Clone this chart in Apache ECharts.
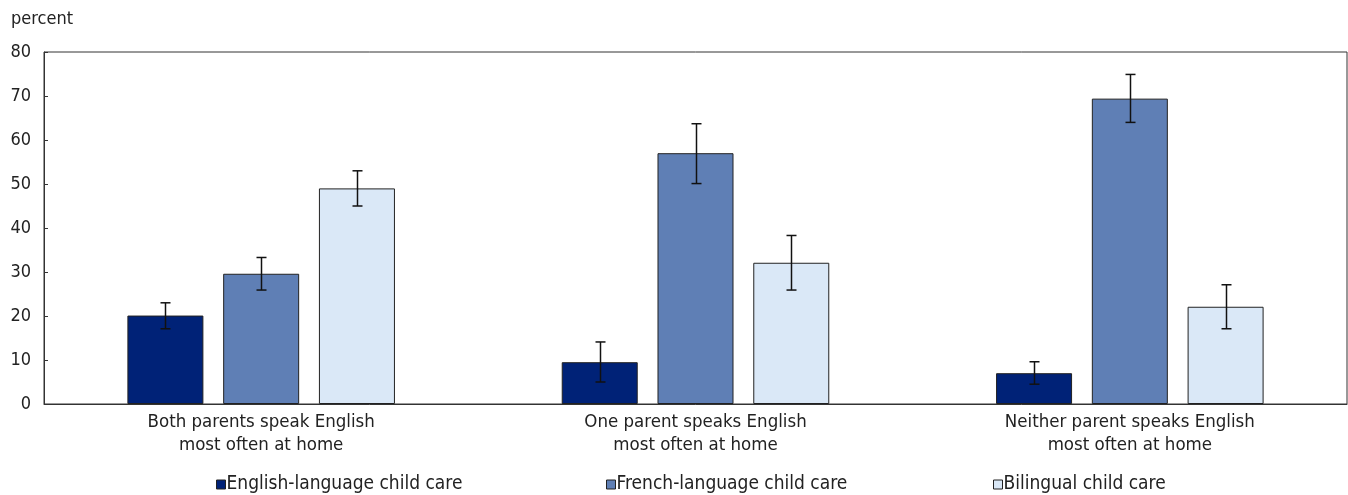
<!DOCTYPE html>
<html>
<head>
<meta charset="utf-8">
<script src="https://cdn.jsdelivr.net/npm/echarts@6/dist/echarts.min.js"></script>
<style>
  html, body { margin: 0; padding: 0; background: #fff; }
  #chart { width: 1348px; height: 495px; }
</style>
</head>
<body>
<div id="chart"></div>
<script>
// Child care language by home language of parents (percent, with 95% confidence intervals)
const categories = [
  'Both parents speak English\nmost often at home',
  'One parent speaks English\nmost often at home',
  'Neither parent speaks English\nmost often at home'
];
const seriesNames = ['English-language child care', 'French-language child care', 'Bilingual child care'];

const englishCare = [20.1, 9.5, 7.0];
const frenchCare = [29.6, 57.0, 69.4];
const bilingualCare = [49.0, 32.1, 22.1];

// Confidence interval bounds [low, high] per category
const englishCI = [[17.1, 23.0], [5.0, 14.1], [4.5, 9.6]];
const frenchCI = [[25.9, 33.3], [50.1, 63.7], [64.0, 74.9]];
const bilingualCI = [[45.0, 53.0], [25.9, 38.3], [17.1, 27.1]];

const yTicks = { min: 0, max: 80, interval: 10 };

const colors = ['#002277', '#5f7fb5', '#dae8f7'];
const FONT = '"DejaVu Sans Condensed", "Liberation Sans Narrow", sans-serif';
const BAR_W = 0.175;   // share of category band
const BAR_GAP = 0.26;  // share of bar width

const chart = echarts.init(document.getElementById('chart'), null, { renderer: 'canvas' });

function ciSeries(idx, ci) {
  return {
    type: 'custom',
    name: seriesNames[idx] + ' CI',
    z: 10,
    silent: true,
    data: ci.map((d, i) => [i, d[0], d[1]]),
    renderItem: function (params, api) {
      const band = api.size([1, 0])[0];
      const bw = band * BAR_W;
      const off = (idx - 1) * bw * (1 + BAR_GAP);
      const lo = api.coord([api.value(0), api.value(1)]);
      const hi = api.coord([api.value(0), api.value(2)]);
      const x = Math.round(lo[0] + off) + 0.5;
      const cap = 5;
      const style = { stroke: '#111', lineWidth: 1.5 };
      return {
        type: 'group',
        children: [
          { type: 'line', shape: { x1: x, y1: hi[1], x2: x, y2: lo[1] }, style: style },
          { type: 'line', shape: { x1: x - cap, y1: hi[1], x2: x + cap, y2: hi[1] }, style: style },
          { type: 'line', shape: { x1: x - cap, y1: lo[1], x2: x + cap, y2: lo[1] }, style: style }
        ]
      };
    }
  };
}

function barSeries(idx, values) {
  return {
    type: 'bar',
    name: seriesNames[idx],
    data: values,
    barWidth: (BAR_W * 100) + '%',
    barGap: (BAR_GAP * 100) + '%',
    itemStyle: { color: colors[idx], borderColor: '#222', borderWidth: 1 },
    emphasis: { disabled: true }
  };
}

function legendAt(idx, left) {
  return {
    data: [seriesNames[idx]],
    left: left,
    top: 475,
    icon: 'rect',
    itemWidth: 9,
    itemHeight: 9,
    itemGap: 0,
    padding: 0,
    selectedMode: false,
    itemStyle: { borderColor: '#222', borderWidth: 1 },
    textStyle: { fontFamily: FONT, fontSize: 19, color: '#222', padding: [0, 0, 0, -4] }
  };
}

chart.setOption({
  animation: false,
  backgroundColor: '#fff',
  title: {
    text: 'percent',
    left: 6,
    top: 5,
    textStyle: { fontFamily: FONT, fontSize: 18, fontWeight: 'normal', color: '#222' }
  },
  grid: {
    left: 44, right: 1, top: 52, bottom: 91,
    show: true, borderColor: '#333', borderWidth: 1
  },
  legend: [legendAt(0, 216), legendAt(1, 606), legendAt(2, 993)],
  xAxis: {
    type: 'category',
    data: categories,
    axisLine: { lineStyle: { color: '#333', width: 1 } },
    axisTick: { show: false },
    axisLabel: { fontFamily: FONT, fontSize: 18.5, color: '#222', lineHeight: 23, margin: 7 }
  },
  yAxis: {
    type: 'value',
    min: yTicks.min,
    max: yTicks.max,
    interval: yTicks.interval,
    splitLine: { show: false },
    axisLine: { show: true, lineStyle: { color: '#333', width: 1 } },
    axisTick: { show: true, inside: true, length: 4, lineStyle: { color: '#333' } },
    axisLabel: { fontFamily: FONT, fontSize: 18, color: '#222', margin: 13 }
  },
  series: [
    barSeries(0, englishCare),
    barSeries(1, frenchCare),
    barSeries(2, bilingualCare),
    ciSeries(0, englishCI),
    ciSeries(1, frenchCI),
    ciSeries(2, bilingualCI)
  ]
});
</script>
</body>
</html>
